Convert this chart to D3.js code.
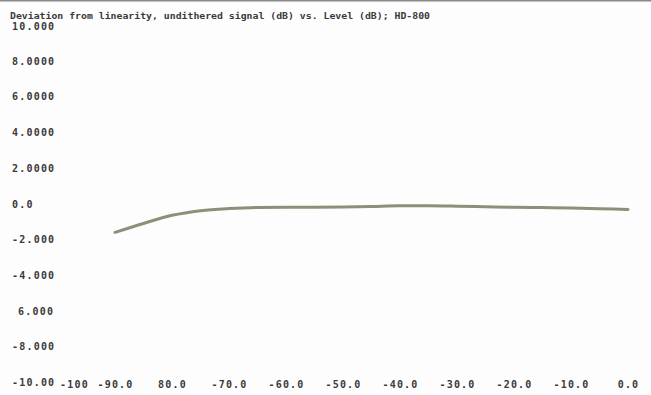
<!DOCTYPE html>
<html>
<head>
<meta charset="utf-8">
<script src="https://cdn.jsdelivr.net/npm/d3@7"></script>
<style>
  body { margin: 0; background: #fff; }
  text { font-family: "DejaVu Sans Mono", monospace; font-weight: bold; fill: #3a3a3a; }
</style>
</head>
<body>
<div class="chart"></div>
<script>
// chart values
var levels = [-90, -85, -80, -75, -70, -65, -60, -55, -50, -45, -40, -35, -30, -25, -20, -15, -10, -5, 0];
var deviation = [-1.62, -1.12, -0.66, -0.40, -0.28, -0.22, -0.21, -0.21, -0.20, -0.17, -0.13, -0.13, -0.15, -0.18, -0.21, -0.23, -0.25, -0.29, -0.33];

var yTicks = [10, 8, 6, 4, 2, 0, -2, -4, -6, -8, -10];
var yTickLabels = ["10.000", "8.0000", "6.0000", "4.0000", "2.0000", "0.0", "-2.000", "-4.000", "6.000", "-8.000", "-10.00"];
var xTicks = [-100, -90, -80, -70, -60, -50, -40, -30, -20, -10, 0];
var xTickLabels = ["-100", "-90.0", "80.0", "-70.0", "-60.0", "-50.0", "-40.0", "-30.0", "-20.0", "-10.0", "0.0"];

var title = "Deviation from linearity, undithered signal (dB) vs. Level (dB); HD-800";

var svgWidth = 651, svgHeight = 395;

var svg = d3.select(".chart")
    .append("svg")
    .attr("width", svgWidth)
    .attr("height", svgHeight);

svg.append("rect")
    .attr("width", svgWidth)
    .attr("height", svgHeight)
    .attr("fill", "#fdfdfd");

// scanned top edge
svg.append("line")
    .attr("x1", 0).attr("x2", svgWidth)
    .attr("y1", 0.5).attr("y2", 0.5)
    .attr("stroke", "#8a8a8a")
    .attr("stroke-width", 2);

// scales
var xScale = d3.scaleLinear().domain([-100, 0]).range([58, 628]);
var yScale = d3.scaleLinear().domain([-10, 10]).range([382, 25]);

// title
svg.append("text")
    .attr("x", 10)
    .attr("y", 19)
    .attr("font-size", 9.5)
    .attr("textLength", 420)
    .attr("lengthAdjust", "spacingAndGlyphs")
    .text(title);

// y axis labels (left aligned)
var yAxis = d3.axisRight(yScale)
    .tickValues(yTicks)
    .tickSize(0)
    .tickPadding(0)
    .tickFormat(function(d, i) { return yTickLabels[i]; });

var yG = svg.append("g")
    .attr("transform", "translate(12,0)")
    .call(yAxis);
yG.select(".domain").remove();
yG.selectAll("text")
    .attr("font-family", "DejaVu Sans Mono")
    .attr("font-size", 10)
    .attr("letter-spacing", 1.2)
    .attr("fill", "#3a3a3a")
    .attr("dy", function(d) { return d === 10 ? "0.45em" : "0.35em"; })
    .attr("x", function(d) { return d === -6 ? 6 : 0; });

// x axis labels
var xAxis = d3.axisBottom(xScale)
    .tickValues(xTicks)
    .tickSize(0)
    .tickPadding(0)
    .tickFormat(function(d, i) { return xTickLabels[i]; });

var xG = svg.append("g")
    .attr("transform", "translate(0,384)")
    .call(xAxis);
xG.select(".domain").remove();
xG.selectAll("text")
    .attr("font-family", "DejaVu Sans Mono")
    .attr("font-size", 10)
    .attr("letter-spacing", 1.2)
    .attr("fill", "#3a3a3a")
    .attr("dy", "0.35em")
    .attr("x", function(d) { return d === -100 ? 16 : 0; });

// the curve
var line = d3.line()
    .x(function(d, i) { return xScale(levels[i]); })
    .y(function(d) { return yScale(d); })
    .curve(d3.curveMonotoneX);

svg.append("path")
    .datum(deviation)
    .attr("d", line)
    .attr("fill", "none")
    .attr("stroke", "#8b9079")
    .attr("stroke-width", 3)
    .attr("stroke-linecap", "round");
</script>
</body>
</html>
